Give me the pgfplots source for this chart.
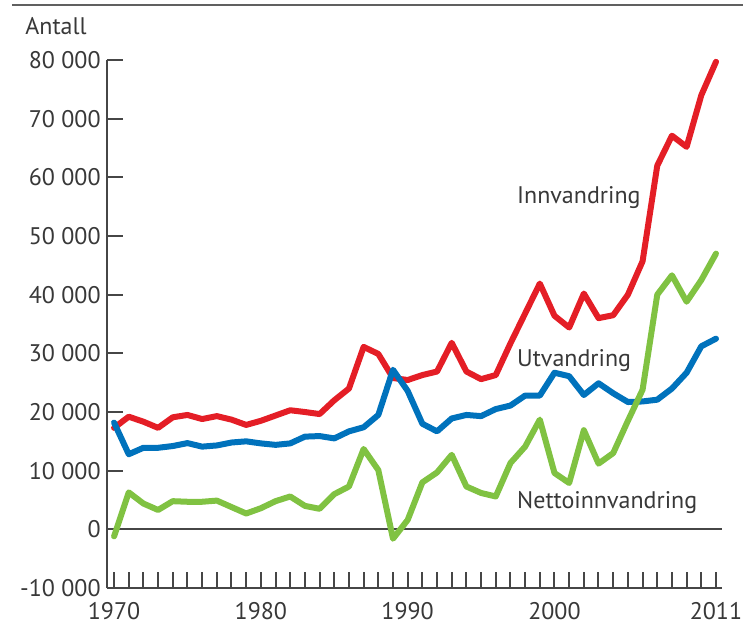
\documentclass[border=0pt]{standalone}
\usepackage{pgfplots}
\pgfplotsset{compat=1.18}
\usepackage{pgfplotstable}
\usepackage{fontspec}
\setmainfont{PT Sans}

\definecolor{innred}{RGB}{228,30,38}
\definecolor{utvblue}{RGB}{0,114,188}
\definecolor{netgreen}{RGB}{128,194,66}
\definecolor{axgray}{RGB}{70,70,70}

% year, innvandring, utvandring, nettoinnvandring
\pgfplotstableread{
year inn utv net
1970 17300 18200 -1200
1971 19200 12800 6300
1972 18350 13900 4400
1973 17300 13900 3300
1974 19100 14200 4800
1975 19500 14700 4700
1976 18800 14100 4700
1977 19300 14300 4900
1978 18700 14800 3800
1979 17800 15000 2700
1980 18500 14650 3600
1981 19400 14400 4800
1982 20300 14650 5600
1983 20000 15800 4000
1984 19650 15900 3500
1985 22000 15500 6000
1986 24000 16700 7300
1987 31100 17400 13700
1988 29900 19500 10100
1989 25800 27200 -1600
1990 25450 23600 1600
1991 26300 18000 8000
1992 26900 16700 9700
1993 31800 18900 12700
1994 26900 19500 7300
1995 25600 19300 6200
1996 26300 20500 5600
1997 31700 21100 11300
1998 36800 22800 14100
1999 41900 22800 18700
2000 36400 26700 9600
2001 34400 26100 7900
2002 40200 22900 16900
2003 36000 24900 11200
2004 36500 23200 13000
2005 40000 21700 18500
2006 45700 21800 23800
2007 62000 22100 40000
2008 67100 24000 43300
2009 65200 26700 38800
2010 74000 31200 42500
2011 79700 32500 47000
}\datatable

\begin{document}
\fontsize{12pt}{14pt}\selectfont
\begin{tikzpicture}
\useasboundingbox (-53.5pt,-19.5pt) rectangle (318pt,294pt);
\draw[line width=1pt, color=gray!75!black] (-47.5pt,291.5pt) -- (318pt,291.5pt);
\node[anchor=base west, inner sep=0pt, text=axgray!80!black] at (-41pt,276.5pt) {Antall};
\begin{axis}[
  at={(0,0)}, anchor=south west,
  scale only axis,
  width=307.5pt, height=264pt,
  xmin=1969.52, xmax=2011.41,
  ymin=-10000, ymax=80000,
  scaled y ticks=false,
  axis x line*=bottom, axis y line*=left,
  axis line style={line width=1pt, color=axgray},
  tick align=inside,
  major tick length=8pt,
  tick style={line width=1pt, color=axgray},
  xtick={1970,...,2011},
  xticklabels={1970,,,,,,,,,,1980,,,,,,,,,,1990,,,,,,,,,,2000,,,,,,,,,,,2011},
  ytick={-10000,0,10000,20000,30000,40000,50000,60000,70000,80000},
  yticklabels={-10 000,0,10 000,20 000,30 000,40 000,50 000,60 000,70 000,80 000},
  xticklabel style={yshift=-6pt, inner sep=1pt, text=axgray!80!black},
  yticklabel style={xshift=1pt, text=axgray!80!black},
  extra y ticks={0},
  extra y tick labels={},
  extra y tick style={ymajorgrids=true, major grid style={line width=1pt, color=axgray}},
  clip=false,
  every axis plot/.append style={line width=3pt, line join=round, line cap=round, no markers},
]
\addplot[innred] table[x=year, y=inn] {\datatable};
\addplot[utvblue] table[x=year, y=utv] {\datatable};
\addplot[netgreen] table[x=year, y=net] {\datatable};
\node[anchor=base west, inner sep=0pt, text=axgray!80!black] at (axis cs:1997.43,55460) {Innvandring};
\node[anchor=base west, inner sep=0pt, text=axgray!80!black] at (axis cs:1997.43,27720) {Utvandring};
\node[anchor=base west, inner sep=0pt, text=axgray!80!black] at (axis cs:1997.43,3630) {Nettoinnvandring};
\end{axis}
\end{tikzpicture}
\end{document}
